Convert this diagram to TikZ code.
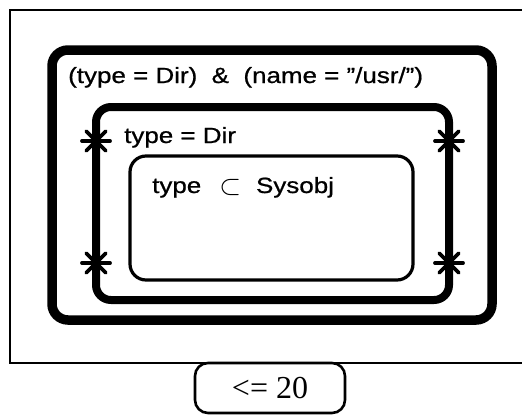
\documentclass[tikz,border=0pt]{standalone}
\usepackage{fontspec}
\setmainfont{Liberation Serif}
\newfontfamily\labelsans[FakeStretch=1.18,FakeBold=0.8]{Liberation Sans}
\begin{document}
\begin{tikzpicture}[x=1pt,y=-1pt,
  frame/.style={line width=2pt},
  heavybox/.style={line width=9.5pt,rounded corners=16pt},
  midbox/.style={line width=8pt,rounded corners=15pt},
  thinbox/.style={line width=3.2pt,rounded corners=16pt},
  cond/.style={font=\labelsans\fontsize{22}{24}\selectfont,anchor=base west,inner sep=0pt},
  spoke/.style={line width=3.8pt,line cap=round},
  limitbox/.style={draw,line width=2.6pt,rounded corners=13pt,minimum width=150pt,minimum height=50pt,
    font=\fontsize{32}{34}\selectfont,inner sep=0pt}
]
\useasboundingbox (0,0) rectangle (522,415);
\begin{scope}
\clip (0,0) rectangle (522,415);
% outer frame, running past the right edge
\draw[frame] (10,10) rectangle (540,363);
% nested condition boxes
\draw[heavybox] (52,50) rectangle (492,320);
\draw[midbox] (96,107) rectangle (449,300);
\draw[thinbox] (130,156) rectangle (413,280);
% limit label below the frame
\node[limitbox] (limit) at (270,388) {<= 20};
\end{scope}
% condition labels
\node[cond] (outerc) at (68,83) {(type = Dir)\ \ \&\ \ (name = ”/usr/”)};
\node[cond] (midc) at (124,143) {type = Dir};
\node[cond] (innerc) at (152,193) {type\hspace{18pt}\raisebox{-1pt}{\scalebox{1.35}{$\subset$}}\hspace{15pt}Sysobj};
% asterisk markers on the middle box
\foreach \n/\px/\py in {a/96/141,b/96/263,c/449/141,d/449/263}{
  \coordinate (\n) at (\px,\py);
  \foreach \ang in {0,45,90,135,180,225,270,315}
    \draw[spoke] (\n) -- ++(\ang:14pt);
}
\end{tikzpicture}
\end{document}
